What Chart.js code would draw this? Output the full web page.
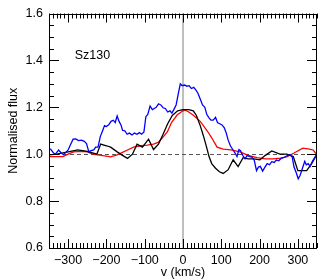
<!DOCTYPE html>
<html>
<head>
<meta charset="utf-8">
<script src="https://cdn.jsdelivr.net/npm/chart.js@4.4.1/dist/chart.umd.min.js"></script>
<style>
  html, body { margin: 0; padding: 0; background: #fff; }
  canvas { display: block; }
</style>
</head>
<body>
<canvas id="flux-chart" width="327" height="280"></canvas>
<script>
// --- data ---
const velBlue = [-350, -345, -338, -333, -325, -318, -312, -305, -300, -294, -287, -280, -273, -265, -258, -252, -246, -240, -233, -228, -222, -216, -210, -205, -200, -194, -188, -182, -177, -172, -167, -162, -158, -152, -146, -140, -133, -127, -120, -114, -108, -102, -97, -92, -86, -80, -75, -70, -64, -58, -52, -46, -40, -34, -29, -24, -18, -12, -7, -2, 4, 10, 16, 22, 28, 33, 39, 45, 51, 57, 62, 68, 73, 79, 85, 90, 96, 102, 108, 113, 118, 124, 130, 136, 141, 146, 150, 156, 162, 168, 174, 180, 186, 192, 197, 202, 208, 214, 220, 226, 232, 238, 244, 250, 256, 262, 268, 274, 280, 285, 290, 296, 301, 306, 312, 318, 322, 327, 332, 338, 344, 350];
const fluxBlue = [1.025, 1.02, 1.005, 1.0, 1.018, 1.005, 0.998, 1.01, 1.018, 1.04, 1.064, 1.065, 1.058, 1.06, 1.055, 1.045, 1.01, 1.015, 1.018, 1.03, 1.03, 1.075, 1.10, 1.122, 1.118, 1.125, 1.14, 1.145, 1.135, 1.163, 1.14, 1.125, 1.102, 1.10, 1.085, 1.09, 1.082, 1.09, 1.085, 1.092, 1.085, 1.095, 1.16, 1.17, 1.205, 1.19, 1.195, 1.20, 1.215, 1.21, 1.198, 1.195, 1.18, 1.185, 1.175, 1.19, 1.21, 1.26, 1.30, 1.292, 1.295, 1.29, 1.292, 1.28, 1.285, 1.275, 1.26, 1.235, 1.21, 1.20, 1.17, 1.155, 1.145, 1.145, 1.157, 1.135, 1.13, 1.125, 1.112, 1.09, 1.06, 1.035, 1.02, 1.005, 0.99, 1.02, 1.015, 0.995, 0.98, 0.995, 0.99, 0.988, 0.975, 0.93, 0.945, 0.948, 0.928, 0.945, 0.96, 0.955, 0.968, 0.965, 0.975, 0.972, 0.982, 0.985, 0.99, 0.995, 0.998, 0.99, 0.945, 0.92, 0.895, 0.91, 0.94, 0.97, 0.955, 0.96, 0.948, 0.97, 0.985, 1.0];

const velBlack  = [-350, -330, -300, -275, -250, -225, -215, -200, -189, -172, -158, -145, -132, -120, -106, -90, -77, -64, -52, -40, -28, -14, 0, 15, 27, 35, 45, 53, 60, 68, 75, 85, 95, 105, 118, 131, 144, 157, 170, 185, 201, 215, 232, 253, 271, 288, 300, 323, 336, 350];
const fluxBlack = [0.997, 1.0, 1.01, 1.018, 1.012, 1.0, 1.043, 1.036, 1.03, 1.01, 0.995, 0.982, 1.0, 1.043, 1.03, 1.064, 1.02, 1.043, 1.085, 1.13, 1.165, 1.185, 1.19, 1.19, 1.185, 1.165, 1.122, 1.08, 1.04, 0.99, 0.96, 0.94, 0.925, 0.918, 0.934, 0.976, 0.947, 0.985, 0.98, 0.98, 0.976, 0.995, 1.014, 1.0, 1.0, 0.99, 0.93, 0.93, 0.96, 1.0];

const velRed  = [-350, -330, -314, -300, -286, -265, -250, -235, -223, -205, -189, -172, -158, -145, -129, -110, -93, -77, -65, -51, -41, -30, -15, 0, 6, 15, 27, 45, 63, 75, 89, 105, 125, 149, 170, 193, 215, 235, 255, 271, 290, 313, 330, 340, 350];
const fluxRed = [0.99, 0.99, 0.99, 1.0, 1.01, 1.012, 1.01, 1.0, 0.997, 0.993, 0.989, 0.997, 1.008, 1.018, 1.03, 1.036, 1.039, 1.043, 1.05, 1.075, 1.095, 1.135, 1.168, 1.185, 1.188, 1.18, 1.166, 1.14, 1.10, 1.07, 1.03, 1.022, 1.018, 1.01, 0.995, 0.985, 0.98, 0.98, 0.983, 0.989, 1.005, 1.026, 1.022, 1.018, 0.997];

const xTicks = [-300, -200, -100, 0, 100, 200, 300];
const yTicks = [0.6, 0.8, 1.0, 1.2, 1.4, 1.6];
const starName = 'Sz130';

const FONT = { family: '"Liberation Sans", Arial, Helvetica, sans-serif', size: 12.5 };

function toPoints(vel, flux) {
  return vel.map((v, i) => ({ x: v, y: flux[i] }));
}

// reference lines under the spectra
const refLines = {
  id: 'refLines',
  beforeDatasetsDraw(chart) {
    const { ctx, chartArea: a, scales: { x, y } } = chart;
    ctx.save();
    // v = 0
    ctx.strokeStyle = '#aaaaaa';
    ctx.lineWidth = 1.5;
    const x0 = x.getPixelForValue(0);
    ctx.beginPath();
    ctx.moveTo(x0, a.top);
    ctx.lineTo(x0, a.bottom);
    ctx.stroke();
    // continuum level
    ctx.strokeStyle = '#555555';
    ctx.lineWidth = 1;
    ctx.setLineDash([4, 3]);
    const y1 = Math.round(y.getPixelForValue(1.0)) + 0.5;
    ctx.beginPath();
    ctx.moveTo(a.left, y1);
    ctx.lineTo(a.right, y1);
    ctx.stroke();
    ctx.restore();
  }
};

// IDL-style frame with inward ticks on all four sides, plus the label
const frameTicks = {
  id: 'frameTicks',
  afterDatasetsDraw(chart) {
    const { ctx, chartArea: a, scales: { x, y } } = chart;
    ctx.save();
    ctx.strokeStyle = '#000';
    ctx.lineWidth = 1;
    ctx.strokeRect(Math.round(a.left) + 0.5, Math.round(a.top) + 0.5,
                   Math.round(a.right - a.left) - 1, Math.round(a.bottom - a.top) - 1);

    ctx.beginPath();
    for (let v = -350; v <= 350; v += 10) {
      const px = Math.round(x.getPixelForValue(v)) + 0.5;
      const len = (v % 100 === 0) ? 9 : 5;
      ctx.moveTo(px, a.bottom); ctx.lineTo(px, a.bottom - len);
      ctx.moveTo(px, a.top);    ctx.lineTo(px, a.top + len);
    }
    for (let k = 12; k <= 32; k++) {
      const f = k * 0.05;
      const py = Math.round(y.getPixelForValue(f)) + 0.5;
      const len = (k % 4 === 0) ? 10 : 5;
      ctx.moveTo(a.left, py);  ctx.lineTo(a.left + len, py);
      ctx.moveTo(a.right, py); ctx.lineTo(a.right - len, py);
    }
    ctx.stroke();

    ctx.fillStyle = '#000';
    ctx.font = `${FONT.size}px ${FONT.family}`;
    ctx.textAlign = 'left';
    ctx.textBaseline = 'middle';
    ctx.fillText(starName, x.getPixelForValue(-283), y.getPixelForValue(1.42));
    ctx.restore();
  }
};

const lineStyle = { pointRadius: 0, borderWidth: 1.3, tension: 0, fill: false };

new Chart(document.getElementById('flux-chart'), {
  type: 'line',
  data: {
    datasets: [
      { ...lineStyle, label: 'blue',  data: toPoints(velBlue, fluxBlue),   borderColor: '#0000ff' },
      { ...lineStyle, label: 'black', data: toPoints(velBlack, fluxBlack), borderColor: '#000000' },
      { ...lineStyle, label: 'red',   data: toPoints(velRed, fluxRed),     borderColor: '#ff0000' }
    ]
  },
  options: {
    responsive: false,
    animation: false,
    layout: { padding: { top: 9, right: 10, left: 0, bottom: 0 } },
    plugins: { legend: { display: false }, tooltip: { enabled: false } },
    scales: {
      x: {
        type: 'linear',
        min: -350,
        max: 350,
        grid: { display: false, drawTicks: false },
        border: { display: false },
        afterBuildTicks: s => { s.ticks = xTicks.map(v => ({ value: v })); },
        afterFit: s => { s.height = 32; },
        ticks: {
          font: FONT, color: '#000', padding: 5, maxRotation: 0, autoSkip: false,
          callback: v => (v < 0 ? '\u2212' + Math.abs(v) : String(v))
        },
        title: { display: true, text: 'v (km/s)', font: FONT, color: '#000', padding: { top: 0, bottom: 0 } }
      },
      y: {
        min: 0.6,
        max: 1.6,
        grid: { display: false, drawTicks: false },
        border: { display: false },
        afterBuildTicks: s => { s.ticks = yTicks.map(v => ({ value: v })); },
        afterFit: s => { s.width = 49; },
        ticks: {
          font: FONT, color: '#000', padding: 6, autoSkip: false,
          callback: v => Number(v).toFixed(1)
        },
        title: { display: true, text: 'Normalised flux', font: FONT, color: '#000', padding: { top: 6, bottom: 0 } }
      }
    }
  },
  plugins: [refLines, frameTicks]
});
</script>
</body>
</html>
